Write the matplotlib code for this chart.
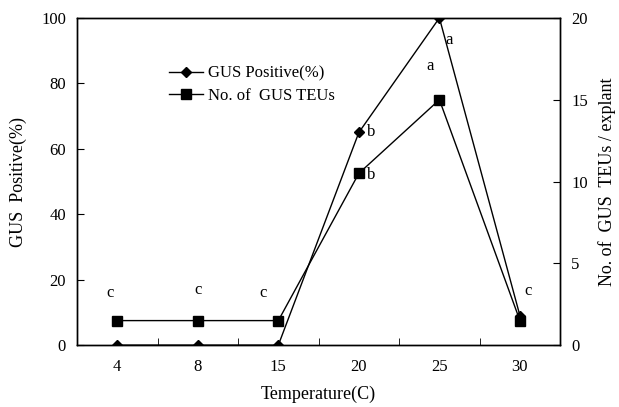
import numpy as np
import matplotlib
matplotlib.use('Agg')
from matplotlib import pyplot as plt

plt.rcParams['font.family'] = 'Liberation Serif'

temps = ['4', '8', '15', '20', '25', '30']
gus_positive = [0, 0, 0, 65, 100, 9]
teus = [1.5, 1.5, 1.5, 10.5, 15, 1.5]
gus_letters = ['', '', '', 'b', 'a', '']
teu_letters = ['c', 'c', 'c', 'b', 'a', 'c']

fig = plt.figure(figsize=(6.19, 4.07), dpi=100)
ax = fig.add_axes([0.1244, 0.152, 0.7806, 0.804])
ax2 = ax.twinx()

x = np.arange(len(temps))
l1, = ax.plot(x, gus_positive, color='black', lw=1, marker='D', ms=5,
              label='GUS Positive(%)')
l2, = ax2.plot(x, teus, color='black', lw=1, marker='s', ms=7,
               label='No. of  GUS TEUs')

ax.set_xlim(-0.5, 5.5)
ax.set_ylim(0, 100)
ax2.set_ylim(0, 20)
ax.set_xticks(x)
ax.set_xticklabels(temps)
ax.set_xticks(x[:-1] + 0.5, minor=True)
ax.tick_params(axis='x', which='major', length=0, pad=10, labelsize=12)
ax.tick_params(axis='x', which='minor', direction='in', length=5)
ax.set_yticks([0, 20, 40, 60, 80, 100])
ax.tick_params(axis='y', direction='in', length=5, labelsize=12, pad=8)
ax2.set_yticks([0, 5, 10, 15, 20])
ax2.tick_params(axis='y', direction='in', length=5, labelsize=12, pad=8)

for sp in list(ax.spines.values()) + list(ax2.spines.values()):
    sp.set_linewidth(1)

# significance letters
gus_offs = [None, None, None, (9, 0), (7, -16)]
for i, s in enumerate(gus_letters):
    if s:
        ax.annotate(s, (x[i], gus_positive[i]), xytext=gus_offs[i],
                    textcoords='offset points', fontsize=12,
                    ha='center', va='center')
teu_offs = [(-5, 20), (0, 22), (-11, 20), (9, -1), (-7, 24), (6, 21)]
for i, s in enumerate(teu_letters):
    ax2.annotate(s, (x[i], teus[i]), xytext=teu_offs[i],
                 textcoords='offset points', fontsize=12,
                 ha='center', va='center')

ax.set_xlabel('Temperature(C)', fontsize=13, labelpad=8)
ax.set_ylabel('GUS  Positive(%)', fontsize=13, labelpad=10)
ax2.set_ylabel('No. of  GUS  TEUs / explant', fontsize=13, labelpad=7)

ax.legend([l1, l2], ['GUS Positive(%)', 'No. of  GUS TEUs'],
          loc='upper left', bbox_to_anchor=(0.16, 0.9), frameon=False,
          fontsize=12, handlelength=2, handletextpad=0.3, labelspacing=0.4)

fig.savefig('out.png', dpi=100)
